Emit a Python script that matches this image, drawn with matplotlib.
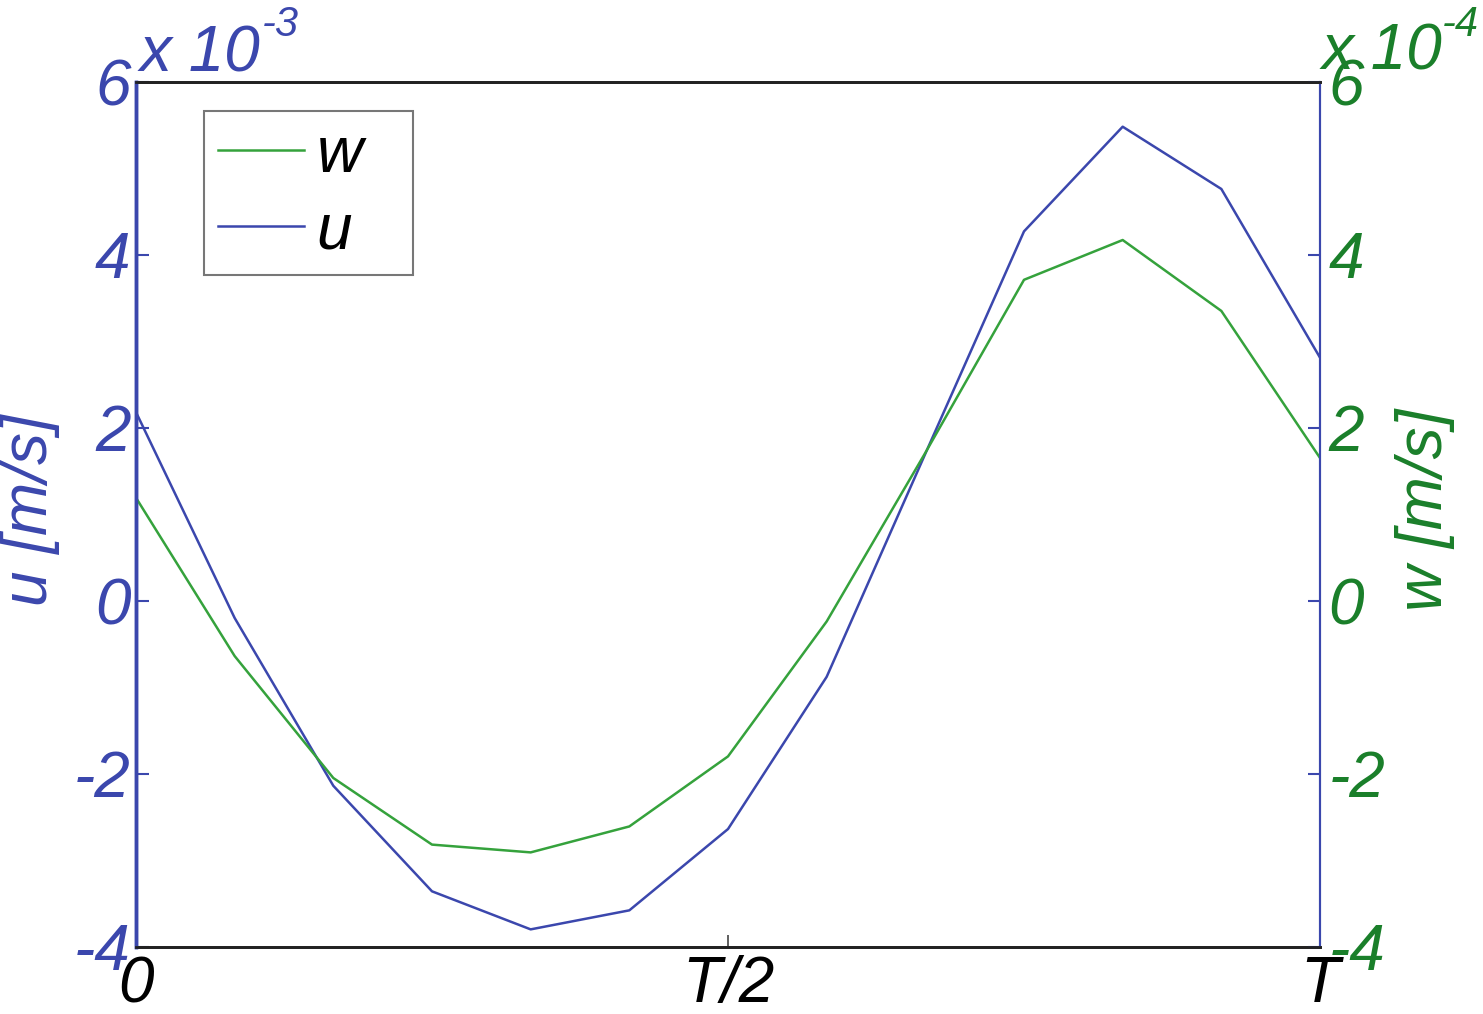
import matplotlib
matplotlib.use("Agg")
import matplotlib.pyplot as plt
from matplotlib.lines import Line2D

# ---- data ----
phase_steps = [0, 1, 2, 3, 4, 5, 6, 7, 8, 9, 10, 11, 12]   # twelfths of period T
u_vals = [2.18, -0.20, -2.14, -3.36, -3.80, -3.58, -2.64, -0.88, 1.70, 4.27, 5.48, 4.76, 2.81]  # x 1e-3 m/s
w_vals = [1.19, -0.64, -2.05, -2.82, -2.91, -2.61, -1.80, -0.24, 1.71, 3.71, 4.17, 3.35, 1.65]  # x 1e-4 m/s
x_tick_pos = [0, 6, 12]
x_tick_labels = ["0", "T/2", "T"]
y_ticks = [-4, -2, 0, 2, 4, 6]
u_exp_label = "-3"
w_exp_label = "-4"

BLUE = "#3b47ad"
GREEN_TXT = "#1a7f2a"
GREEN_LINE = "#35a23c"
FONT = "Liberation Sans"
FS = 46

plt.rcParams['font.family'] = [FONT, 'DejaVu Sans']
plt.rcParams['font.style'] = 'italic'

fig = plt.figure(figsize=(14.83, 10.14), dpi=100)
ax = fig.add_axes([0.0917, 0.0664, 0.7984, 0.8530])
ax2 = ax.twinx()

lu, = ax.plot(phase_steps, u_vals, color=BLUE, lw=1.8)
lw_, = ax2.plot(phase_steps, w_vals, color=GREEN_LINE, lw=1.8)

ax.set_xlim(0, 12)
ax.set_ylim(-4, 6)
ax2.set_ylim(-4, 6)

ax.set_xticks(x_tick_pos)
ax.set_xticklabels(x_tick_labels, fontsize=FS, style='italic', color='black')
ax.set_yticks(y_ticks)
ax.set_yticklabels([str(v) for v in y_ticks], fontsize=FS, style='italic')
ax2.set_yticks(y_ticks)
ax2.set_yticklabels([str(v) for v in y_ticks], fontsize=FS, style='italic')

ax.tick_params(axis='y', direction='in', length=9, width=1.5, colors=BLUE, pad=4, left=True, right=False)
ax.tick_params(axis='x', direction='in', length=9, width=1.2, color='#444444', labelcolor='black', pad=6, top=False)
ax2.tick_params(axis='y', direction='in', length=9, width=1.5, color=BLUE, labelcolor=GREEN_TXT, pad=6)

for a in (ax, ax2):
    a.spines['top'].set_color('#222222')
    a.spines['top'].set_linewidth(2)
    a.spines['bottom'].set_color('#222222')
    a.spines['bottom'].set_linewidth(2)
    a.spines['left'].set_color(BLUE)
    a.spines['left'].set_linewidth(2.5)
    a.spines['right'].set_color(BLUE)
    a.spines['right'].set_linewidth(1.5)

ax.set_ylabel("u [m/s]", fontsize=FS, color=BLUE, style='italic')
ax.yaxis.set_label_coords(-0.064, 0.505)
ax2.set_ylabel("w [m/s]", fontsize=FS, color=GREEN_TXT, style='italic', rotation=90)
ax2.yaxis.set_label_coords(1.063, 0.505)

# exponent annotations
fig.text(140/1483, 1 - 72/1014, "x 10", fontsize=FS, style='italic', color=BLUE, ha='left', va='baseline')
fig.text(262/1483, 1 - 36/1014, u_exp_label, fontsize=30, style='italic', color=BLUE, ha='left', va='baseline')
fig.text(1322/1483, 1 - 70/1014, "x 10", fontsize=FS, style='italic', color=GREEN_TXT, ha='left', va='baseline')
fig.text(1442/1483, 1 - 36/1014, w_exp_label, fontsize=30, style='italic', color=GREEN_TXT, ha='left', va='baseline')

handles = [Line2D([], [], color=GREEN_LINE, lw=1.8), Line2D([], [], color=BLUE, lw=1.8)]
leg = ax2.legend(handles, ["w  ", "u  "], loc='upper left', bbox_to_anchor=(204/1483, 1 - 111/1014),
                 bbox_transform=fig.transFigure, fontsize=FS, frameon=True, fancybox=False,
                 handlelength=1.35, handletextpad=0.2, borderpad=0.22, labelspacing=0.25,
                 borderaxespad=0)
leg.get_frame().set_edgecolor('#555555')
leg.get_frame().set_linewidth(1.5)
for t in leg.get_texts():
    t.set_style('italic')
    t.set_color('black')

fig.savefig("out.png", dpi=100)
